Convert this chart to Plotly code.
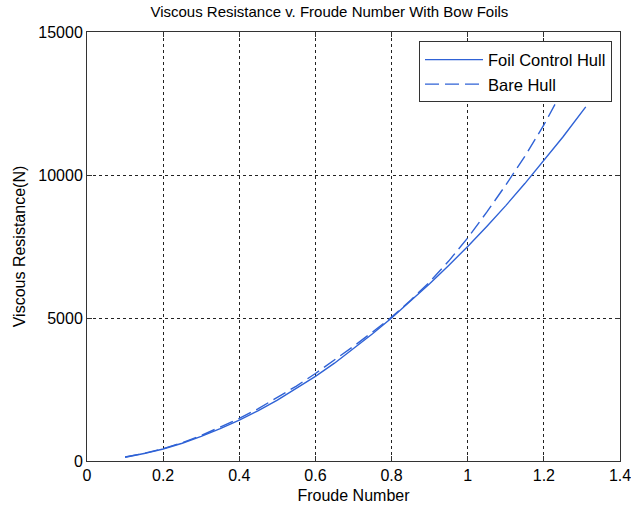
import plotly.graph_objects as go

# Data
fr_foil = [0.10, 0.15, 0.20, 0.25, 0.30, 0.35, 0.40, 0.45, 0.50, 0.55, 0.60, 0.65,
           0.70, 0.75, 0.80, 0.85, 0.90, 0.95, 1.00, 1.05, 1.10, 1.15, 1.20, 1.25, 1.31]
res_foil = [130, 260, 420, 620, 860, 1130, 1430, 1760, 2130, 2530, 2960, 3420,
            3920, 4450, 5000, 5590, 6200, 6840, 7500, 8200, 8930, 9700, 10500, 11330, 12380]

fr_bare = [0.10, 0.15, 0.20, 0.25, 0.30, 0.35, 0.40, 0.45, 0.50, 0.55, 0.60, 0.65,
           0.70, 0.75, 0.80, 0.85, 0.90, 0.95, 1.00, 1.05, 1.10, 1.15, 1.20, 1.237]
res_bare = [140, 270, 430, 640, 890, 1180, 1490, 1830, 2210, 2620, 3060, 3520,
            4010, 4510, 5030, 5620, 6260, 6990, 7800, 8700, 9650, 10650, 11750, 12660]

x_ticks = [0, 0.2, 0.4, 0.6, 0.8, 1.0, 1.2, 1.4]
x_tick_text = ["0", "0.2", "0.4", "0.6", "0.8", "1", "1.2", "1.4"]
y_ticks = [0, 5000, 10000, 15000]
y_tick_text = ["0", "5000", "10000", "15000"]

line_color = "#2f62d6"
font_family = "Liberation Sans, Arial, sans-serif"

fig = go.Figure()
fig.add_trace(go.Scatter(x=fr_foil, y=res_foil, mode="lines", name="Foil Control Hull",
                         line=dict(color=line_color, width=1.4)))
fig.add_trace(go.Scatter(x=fr_bare, y=res_bare, mode="lines", name="Bare Hull",
                         line=dict(color=line_color, width=1.4, dash="14px,6px")))

axis_common = dict(
    showline=True, linecolor="#333333", linewidth=1, mirror="ticks",
    ticks="inside", ticklen=5, tickcolor="#333333",
    showgrid=True, gridcolor="#222222", gridwidth=0.8, griddash="3px,3px",
    zeroline=False, automargin=False, ticklabeloverflow="allow",
    tickfont=dict(family=font_family, size=16, color="black"),
)

fig.update_layout(
    width=631, height=510,
    margin=dict(l=87, r=11, t=32, b=49),
    paper_bgcolor="white", plot_bgcolor="white",
    title=dict(text="Viscous Resistance v. Froude Number With Bow Foils",
               x=0.522, xanchor="center", y=0.977, yanchor="middle",
               font=dict(family=font_family, size=15, color="black")),
    xaxis=dict(range=[0, 1.4], tickvals=x_ticks, ticktext=x_tick_text,
               title=dict(text="Froude Number", standoff=6,
                          font=dict(family=font_family, size=16, color="black")),
               **axis_common),
    yaxis=dict(range=[0, 15000], tickvals=y_ticks, ticktext=y_tick_text,
               title=dict(text="Viscous Resistance(N)", standoff=8,
                          font=dict(family=font_family, size=16, color="black")),
               **axis_common),
    legend=dict(x=0.985, xanchor="right", y=0.978, yanchor="top",
                bgcolor="white", bordercolor="#333333", borderwidth=1,
                font=dict(family=font_family, size=16.5, color="black"),
                itemwidth=58, tracegroupgap=0),
    showlegend=True,
)

fig.write_html("out.html")
